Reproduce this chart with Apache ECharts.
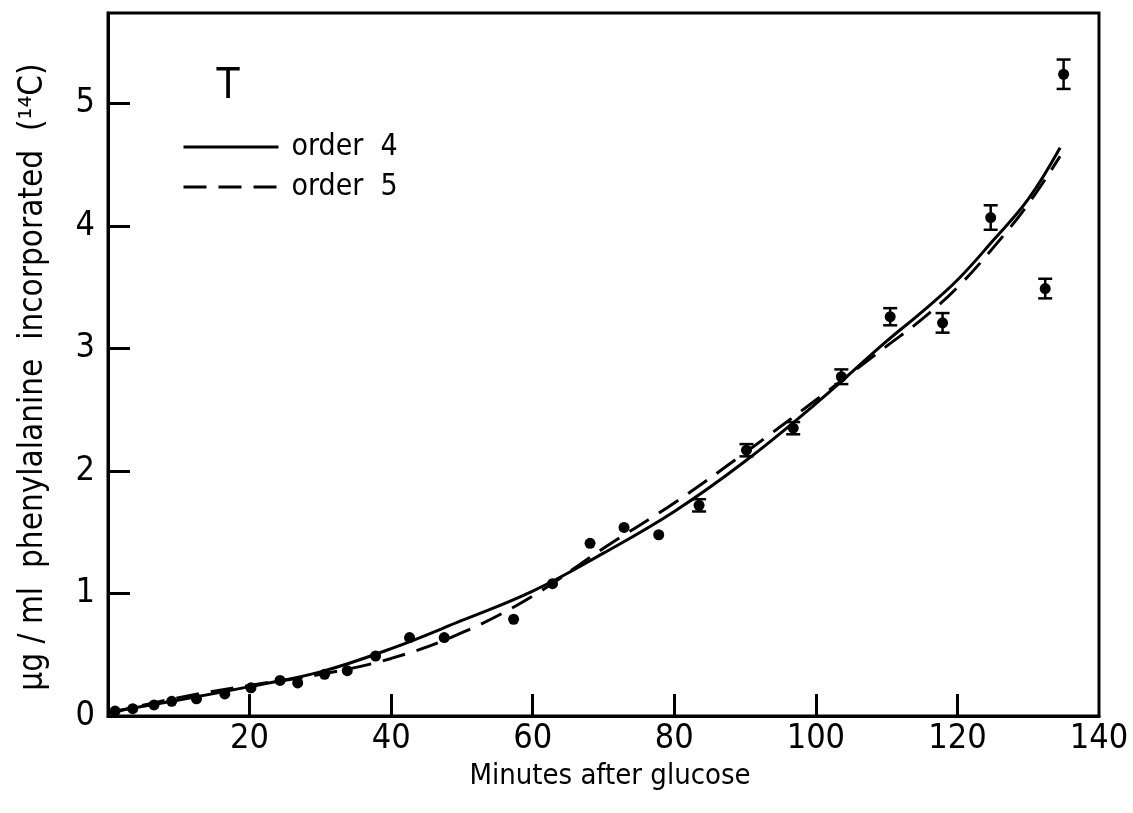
<!DOCTYPE html>
<html>
<head>
<meta charset="utf-8">
<script src="https://cdn.jsdelivr.net/npm/echarts@6/dist/echarts.min.js"></script>
<style>html,body{margin:0;padding:0;background:#fff;}#c{width:1133px;height:813px;}</style>
</head>
<body>
<div id="c"></div>
<script>
// Measured points: minutes after glucose, ug/ml incorporated, error half-width (0 = none drawn)
const pointX = [1, 3.5, 6.5, 9, 12.5, 16.5, 20.2, 24.3, 26.8, 30.6, 33.8, 37.8, 42.6, 47.5, 57.3, 62.8, 68.1, 72.9, 77.8, 83.5, 90.2, 96.8, 103.6, 110.5, 117.9, 124.7, 132.4, 135.0];
const pointY = [0.04, 0.06, 0.09, 0.12, 0.14, 0.18, 0.23, 0.29, 0.27, 0.34, 0.37, 0.49, 0.64, 0.64, 0.79, 1.08, 1.41, 1.54, 1.48, 1.72, 2.17, 2.35, 2.77, 3.26, 3.21, 4.07, 3.49, 5.24];
const pointErr = [0, 0, 0, 0, 0, 0, 0, 0, 0, 0, 0, 0, 0, 0, 0, 0, 0, 0, 0, 0.05, 0.05, 0.05, 0.06, 0.07, 0.08, 0.1, 0.08, 0.12];

// Fitted curves
const fitX = [0, 10, 20, 30, 40, 50, 60, 70, 80, 90, 100, 110, 115, 120, 125, 130, 134.5];
const order4 = [0.03, 0.13, 0.24, 0.36, 0.55, 0.78, 1.02, 1.33, 1.67, 2.08, 2.55, 3.06, 3.30, 3.56, 3.88, 4.22, 4.64];
const order5 = [0.02, 0.15, 0.25, 0.34, 0.47, 0.68, 0.98, 1.37, 1.74, 2.15, 2.58, 3.02, 3.24, 3.50, 3.82, 4.18, 4.57];

const xTickLabels = [20, 40, 60, 80, 100, 120, 140];
const xTicks = [20, 40, 60, 80, 100, 120];
const yTickLabels = [0, 1, 2, 3, 4, 5];
const yTicks = [1, 2, 3, 4, 5];

const FONT = "'DejaVu Sans Condensed', 'Liberation Sans Narrow', 'DejaVu Sans', sans-serif";

const scatterData = pointX.map((x, i) => [x, pointY[i]]);
const errData = pointX.map((x, i) => [x, pointY[i], pointErr[i]]);
const line4 = fitX.map((x, i) => [x, order4[i]]);
const line5 = fitX.map((x, i) => [x, order5[i]]);

const chart = echarts.init(document.getElementById('c'), null, {renderer: 'canvas'});
chart.setOption({
  backgroundColor: '#fff',
  animation: false,
  grid: {left: 108, right: 34, top: 13, bottom: 97, show: true, borderColor: '#000', borderWidth: 3, backgroundColor: 'transparent'},
  xAxis: {
    type: 'value', min: 0, max: 140,
    axisLine: {show: true, lineStyle: {color: '#000', width: 3}},
    axisTick: {show: true, inside: true, length: 22, customValues: xTicks, lineStyle: {color: '#000', width: 3}},
    axisLabel: {customValues: xTickLabels, color: '#000', fontSize: 34, fontFamily: FONT, margin: 6},
    splitLine: {show: false}
  },
  yAxis: {
    type: 'value', min: 0, max: 5.74,
    axisLine: {show: true, lineStyle: {color: '#000', width: 3}},
    axisTick: {show: true, inside: true, length: 22, customValues: yTicks, lineStyle: {color: '#000', width: 3}},
    axisLabel: {customValues: yTickLabels, color: '#000', fontSize: 34, fontFamily: FONT, margin: 13},
    splitLine: {show: false}
  },
  legend: {
    data: ['order 4', 'order 5'],
    orient: 'vertical', left: 177, top: 127,
    itemWidth: 95, itemHeight: 14, itemGap: 10,
    itemStyle: {opacity: 0},
    lineStyle: {width: 3, color: '#000'},
    formatter: function (name) { return name.replace(' ', '  '); },
    textStyle: {color: '#000', fontSize: 30, fontFamily: FONT, padding: [0, 0, 0, 8]},
    inactiveColor: '#000'
  },
  graphic: [
    {type: 'text', x: 228, y: 87, style: {text: 'T', fontSize: 42, fontFamily: FONT, fill: '#000', align: 'center', verticalAlign: 'middle'}},
    {type: 'text', x: 610, y: 776, style: {text: 'Minutes after glucose', fontSize: 29, fontFamily: FONT, fill: '#000', align: 'center', verticalAlign: 'middle'}},
    {type: 'text', x: 33, y: 377, rotation: Math.PI / 2, style: {text: 'μg / ml  phenylalanine  incorporated  (¹⁴C)', fontSize: 33, fontFamily: FONT, fill: '#000', align: 'center', verticalAlign: 'middle'}}
  ],
  series: [
    {
      name: 'order 4', type: 'line', data: line4, smooth: 0.4, symbol: 'none',
      lineStyle: {color: '#000', width: 3, type: 'solid'}, itemStyle: {color: '#000'}, z: 3
    },
    {
      name: 'order 5', type: 'line', data: line5, smooth: 0.4, symbol: 'none',
      lineStyle: {color: '#000', width: 3, type: [23, 12]}, itemStyle: {color: '#000'}, z: 3
    },
    {
      name: 'data', type: 'scatter', data: scatterData, symbol: 'circle', symbolSize: 11,
      itemStyle: {color: '#000', opacity: 1}, z: 4
    },
    {
      name: 'err', type: 'custom', data: errData, z: 4,
      renderItem: function (params, api) {
        const err = api.value(2);
        if (!err) return null;
        const x = api.value(0), y = api.value(1);
        const top = api.coord([x, y + err]);
        const bot = api.coord([x, y - err]);
        const w = 7;
        const st = {stroke: '#000', lineWidth: 2.5};
        return {type: 'group', children: [
          {type: 'line', shape: {x1: top[0], y1: top[1], x2: bot[0], y2: bot[1]}, style: st},
          {type: 'line', shape: {x1: top[0] - w, y1: top[1], x2: top[0] + w, y2: top[1]}, style: st},
          {type: 'line', shape: {x1: bot[0] - w, y1: bot[1], x2: bot[0] + w, y2: bot[1]}, style: st}
        ]};
      }
    }
  ]
});
</script>
</body>
</html>
